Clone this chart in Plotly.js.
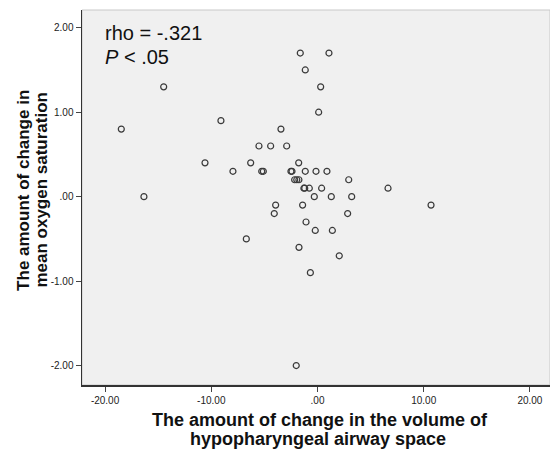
<!DOCTYPE html>
<html>
<head>
<meta charset="utf-8">
<script src="https://cdn.plot.ly/plotly-3.0.1.min.js"></script>
<style>html,body{margin:0;padding:0;background:#fff;}#chart{width:550px;height:450px;}</style>
</head>
<body>
<div id="chart"></div>
<script>
// Change in hypopharyngeal airway volume (x) vs change in mean oxygen saturation (y)
var volumeChange = [-1.62, 1.08, -1.15, -14.48, 0.30, 0.11, -9.09, -18.47, -3.44, -5.51,
  -4.41, -2.90, -10.59, -6.29, -1.77, -7.96, -5.25, -5.10, -2.50, -2.40,
  -1.15, -0.14, 0.89, -2.15, -1.95, -1.75, 2.94, -1.28, -1.20, -0.77,
  0.39, 6.64, -16.34, -0.30, 1.30, 3.22, -3.94, -1.40, 10.69, -4.07,
  2.84, -1.08, -0.21, 1.40, -6.70, -1.74, 2.05, -0.67, -2.00];
var oxygenChange = [1.70, 1.70, 1.50, 1.30, 1.30, 1.00, 0.90, 0.80, 0.80, 0.60,
  0.60, 0.60, 0.40, 0.40, 0.40, 0.30, 0.30, 0.30, 0.30, 0.30,
  0.30, 0.30, 0.30, 0.20, 0.20, 0.20, 0.20, 0.10, 0.10, 0.10,
  0.10, 0.10, 0.00, 0.00, 0.00, 0.00, -0.10, -0.10, -0.10, -0.20,
  -0.20, -0.30, -0.40, -0.40, -0.50, -0.60, -0.70, -0.90, -2.00];
var xTickVals = [-20, -10, 0, 10, 20];
var xTickText = ['-20.00', '-10.00', '.00', '10.00', '20.00'];
var yTickVals = [2, 1, 0, -1, -2];
var yTickText = ['2.00', '1.00', '.00', '-1.00', '-2.00'];
var xTitleLines = ['The amount of change in the volume of', 'hypopharyngeal airway space'];
var yTitleLines = ['The amount of change in', 'mean oxygen saturation'];
var statLine1 = 'rho = -.321';
var statLine2 = '<i>P</i> &lt; .05';

var trace = {
  x: volumeChange, y: oxygenChange, type: 'scatter', mode: 'markers',
  marker: {symbol: 'circle-open', size: 6, color: '#3a3a3a', line: {width: 1.2, color: '#3a3a3a'}},
  hoverinfo: 'skip'
};

var font = 'Arial, "Liberation Sans", sans-serif';
var titleFontX = {size: 18, color: '#111', family: font};
var titleFontY = {size: 17, color: '#111', family: font};
var layout = {
  width: 550, height: 450,
  margin: {l: 82, r: 0, t: 10, b: 65, pad: 0},
  paper_bgcolor: '#ffffff', plot_bgcolor: '#f0f0f0',
  showlegend: false,
  font: {family: font, color: '#222'},
  xaxis: {
    range: [-22.17, 21.89], showgrid: false, zeroline: false,
    tickmode: 'array', tickvals: xTickVals, ticktext: xTickText,
    ticks: 'outside', ticklen: 5, tickcolor: '#444', tickwidth: 1,
    showline: true, linecolor: '#333', linewidth: 1.5,
    tickfont: {size: 10, color: '#222', family: font}
  },
  yaxis: {
    range: [-2.23, 2.21], showgrid: false, zeroline: false,
    tickmode: 'array', tickvals: yTickVals, ticktext: yTickText,
    ticks: 'outside', ticklen: 5, tickcolor: '#444', tickwidth: 1,
    showline: true, linecolor: '#333', linewidth: 1.5,
    tickfont: {size: 10, color: '#222', family: font}
  },
  shapes: [{type: 'rect', xref: 'paper', yref: 'paper', x0: 0, x1: 1, y0: 0, y1: 1, line: {color: '#c8c8c8', width: 1}, layer: 'below'}],
  annotations: [
    {text: statLine1, xref: 'x', yref: 'y', x: -20.2, y: 1.94, xanchor: 'left', yanchor: 'middle', showarrow: false, font: {size: 20, color: '#111', family: font}},
    {text: statLine2, xref: 'x', yref: 'y', x: -20.2, y: 1.655, xanchor: 'left', yanchor: 'middle', showarrow: false, font: {size: 20, color: '#111', family: font}},
    {text: '<b>' + xTitleLines[0] + '</b>', xref: 'paper', yref: 'paper', x: 0.509, y: -0.0931, xanchor: 'center', yanchor: 'middle', showarrow: false, font: titleFontX},
    {text: '<b>' + xTitleLines[1] + '</b>', xref: 'paper', yref: 'paper', x: 0.505, y: -0.1427, xanchor: 'center', yanchor: 'middle', showarrow: false, font: titleFontX},
    {text: '<b>' + yTitleLines[0] + '</b>', xref: 'paper', yref: 'paper', x: -0.1263, y: 0.52, xanchor: 'center', yanchor: 'middle', textangle: -90, showarrow: false, font: titleFontY},
    {text: '<b>' + yTitleLines[1] + '</b>', xref: 'paper', yref: 'paper', x: -0.0885, y: 0.52, xanchor: 'center', yanchor: 'middle', textangle: -90, showarrow: false, font: titleFontY}
  ]
};
Plotly.newPlot('chart', [trace], layout, {displayModeBar: false, staticPlot: true});
</script>
</body>
</html>
